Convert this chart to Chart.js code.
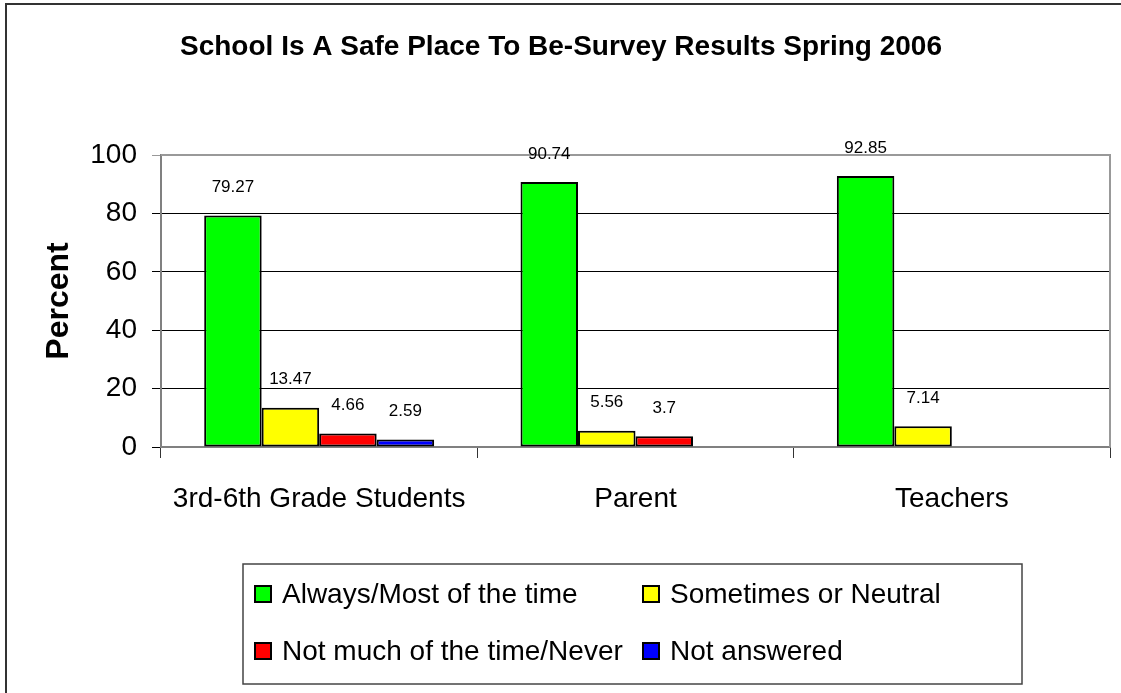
<!DOCTYPE html>
<html>
<head>
<meta charset="utf-8">
<script src="https://cdn.jsdelivr.net/npm/chart.js@4"></script>
<style>
  html, body { margin: 0; padding: 0; background: #fff; }
  #wrap { width: 1121px; height: 693px; position: relative; }
</style>
</head>
<body>
<div id="wrap"><canvas id="chart" width="1121" height="693"></canvas></div>
<script>
const groups = ['3rd-6th Grade Students', 'Parent', 'Teachers'];
const seriesNames = ['Always/Most of the time', 'Sometimes or Neutral', 'Not much of the time/Never', 'Not answered'];
const always = [79.27, 90.74, 92.85];
const sometimes = [13.47, 5.56, 7.14];
const notMuch = [4.66, 3.7, null];
const notAnswered = [2.59, null, null];
const yTicks = [0, 20, 40, 60, 80, 100];
const colors = ['#00ff00', '#ffff00', '#ff0000', '#0000ff'];

Chart.defaults.font.family = '"Liberation Sans", Arial, sans-serif';
Chart.defaults.color = '#000';

// frame, plot border, value labels and the boxed legend
const extras = {
    id: 'extras',
    beforeDraw(chart) {
        const ctx = chart.ctx;
        ctx.save();
        ctx.fillStyle = '#fff';
        ctx.fillRect(0, 0, chart.width, chart.height);
        ctx.strokeStyle = '#333';
        ctx.lineWidth = 2;
        ctx.beginPath();
        ctx.moveTo(5, 4);
        ctx.lineTo(chart.width, 4);
        ctx.moveTo(6, 3);
        ctx.lineTo(6, chart.height);
        ctx.stroke();
        ctx.restore();
    },
    beforeDatasetsDraw(chart) {
        const a = chart.chartArea;
        const ctx = chart.ctx;
        ctx.save();
        ctx.strokeStyle = '#999';
        ctx.lineWidth = 2;
        ctx.beginPath();
        ctx.moveTo(a.left, a.top);
        ctx.lineTo(a.right, a.top);
        ctx.lineTo(a.right, a.bottom);
        ctx.stroke();
        ctx.restore();
    },
    afterDatasetsDraw(chart) {
        const ctx = chart.ctx;
        ctx.save();
        ctx.font = '17px "Liberation Sans", Arial, sans-serif';
        ctx.fillStyle = '#000';
        ctx.textAlign = 'center';
        ctx.textBaseline = 'middle';
        chart.data.datasets.forEach((ds, i) => {
            chart.getDatasetMeta(i).data.forEach((bar, j) => {
                const v = ds.data[j];
                if (v === null) return;
                ctx.fillText(String(v), bar.x, bar.y - 28);
            });
        });

        // legend
        ctx.strokeStyle = '#444';
        ctx.lineWidth = 1.5;
        ctx.strokeRect(243, 564, 779, 120);
        const colX = [255, 643];
        const rowY = [594, 651];
        ctx.font = '28px "Liberation Sans", Arial, sans-serif';
        ctx.textAlign = 'left';
        ctx.textBaseline = 'alphabetic';
        chart.data.datasets.forEach((ds, i) => {
            const x = colX[i % 2];
            const y = rowY[Math.floor(i / 2)];
            ctx.fillStyle = ds.backgroundColor;
            ctx.fillRect(x, y - 8, 16, 16);
            ctx.strokeStyle = '#000';
            ctx.lineWidth = 2;
            ctx.strokeRect(x, y - 8, 16, 16);
            ctx.fillStyle = '#000';
            ctx.fillText(ds.label, x + 27, y + 9);
        });
        ctx.restore();
    }
};

const seriesData = [always, sometimes, notMuch, notAnswered];

new Chart(document.getElementById('chart'), {
    type: 'bar',
    data: {
        labels: groups,
        datasets: seriesNames.map((name, i) => ({
            label: name,
            data: seriesData[i],
            backgroundColor: colors[i],
            borderColor: '#000',
            borderWidth: 2,
            borderSkipped: false,
            categoryPercentage: 0.727,
            barPercentage: 1
        }))
    },
    options: {
        responsive: false,
        animation: false,
        layout: { padding: { left: 12, right: 11, top: 0, bottom: 176 } },
        plugins: {
            legend: { display: false },
            tooltip: { enabled: false },
            title: {
                display: true,
                text: 'School Is A Safe Place To Be-Survey Results Spring 2006',
                font: { size: 28, weight: 'bold' },
                color: '#000',
                padding: { top: 30, bottom: 91.4 }
            }
        },
        scales: {
            x: {
                grid: {
                    drawOnChartArea: false,
                    drawTicks: true,
                    tickLength: 11,
                    color: '#333'
                },
                border: { color: '#808080', width: 2 },
                ticks: { font: { size: 28 }, padding: 24, color: '#000' },
                afterFit(scale) { scale.height = 70; }
            },
            y: {
                min: 0,
                max: 100,
                afterBuildTicks(scale) { scale.ticks = yTicks.map(v => ({ value: v })); },
                grid: {
                    color: ctx => ctx.tick && ctx.tick.value === 100 ? '#999' : '#000',
                    lineWidth: 1,
                    tickLength: 9
                },
                border: { color: '#808080', width: 2 },
                ticks: { font: { size: 28 }, padding: 15, color: '#000' },
                title: {
                    display: true,
                    text: 'Percent',
                    font: { size: 32, weight: 'bold' },
                    color: '#000',
                    padding: { top: 28, bottom: 0 }
                },
                afterFit(scale) { scale.width = 149; }
            }
        }
    },
    plugins: [extras]
});
</script>
</body>
</html>
